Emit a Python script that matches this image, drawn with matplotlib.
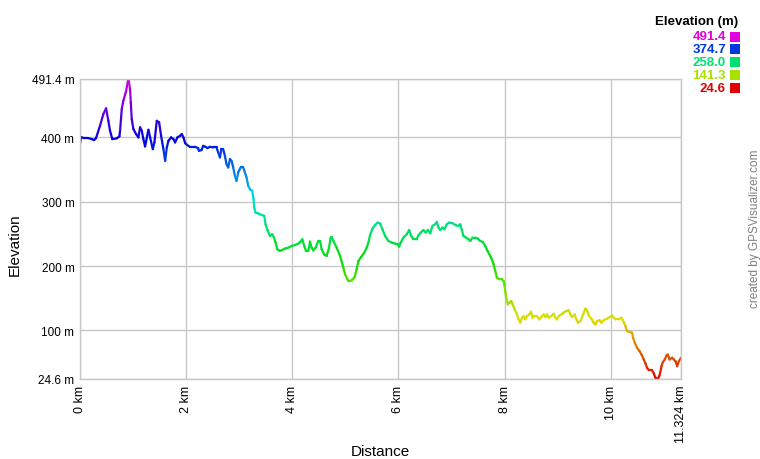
import numpy as np
import matplotlib
matplotlib.use("Agg")
import matplotlib.pyplot as plt
from matplotlib.collections import LineCollection
from matplotlib.colors import hsv_to_rgb
from matplotlib.patches import Rectangle

distance_km = [0, 0.019, 0.075, 0.151, 0.226, 0.264, 0.302, 0.377, 0.440, 0.491, 0.534, 0.566, 0.609, 0.692, 0.742, 0.755, 0.787, 0.817, 0.862, 0.900, 0.911, 0.943, 0.957, 0.975, 1.006, 1.057, 1.100, 1.132, 1.164, 1.194, 1.226, 1.289, 1.321, 1.372, 1.402, 1.447, 1.491, 1.528, 1.572, 1.604, 1.636, 1.666, 1.717, 1.760, 1.792, 1.836, 1.887, 1.919, 1.949, 1.981, 2.013,
               2.070, 2.164, 2.226, 2.240, 2.289, 2.321, 2.364, 2.402, 2.447, 2.509, 2.572, 2.604, 2.636, 2.666, 2.698, 2.730, 2.760, 2.792, 2.825, 2.855, 2.887, 2.919, 2.949, 2.981, 3.025, 3.075, 3.108, 3.138, 3.170, 3.202, 3.245, 3.270, 3.283, 3.308, 3.358, 3.421, 3.472, 3.496, 3.534, 3.579, 3.623, 3.655, 3.685, 3.717, 3.768, 3.862,
               3.925, 3.987, 4.051, 4.113, 4.157, 4.189, 4.226, 4.258, 4.302, 4.334, 4.364, 4.396, 4.440, 4.491, 4.523, 4.553, 4.598, 4.647, 4.692, 4.723, 4.742, 4.774, 4.836, 4.900, 4.962, 4.994, 5.057, 5.119, 5.170, 5.213, 5.245, 5.296, 5.358, 5.402, 5.434, 5.466, 5.515, 5.560, 5.609, 5.655, 5.698,
               5.749, 5.811, 5.874, 5.938, 5.987, 6.013, 6.043, 6.094, 6.157, 6.202, 6.240, 6.283, 6.345, 6.377, 6.421, 6.472, 6.515, 6.553, 6.598, 6.642, 6.692, 6.723, 6.755, 6.787, 6.830, 6.868, 6.911, 6.957, 7.019, 7.081, 7.132, 7.164, 7.194, 7.226, 7.270, 7.321, 7.353, 7.396, 7.447, 7.491, 7.542, 7.591,
               7.636, 7.679, 7.730, 7.760, 7.792, 7.825, 7.855, 7.900, 7.949, 7.981, 8.000, 8.025, 8.062, 8.094, 8.126, 8.151, 8.189, 8.232, 8.264, 8.296, 8.326, 8.358, 8.390, 8.421, 8.466, 8.496, 8.528, 8.560, 8.609, 8.655, 8.692, 8.736, 8.768, 8.798, 8.830, 8.881, 8.925, 8.957, 8.987, 9.019, 9.070, 9.113, 9.157, 9.208, 9.240, 9.270, 9.321, 9.353, 9.383, 9.428,
               9.523, 9.553, 9.585, 9.636, 9.679, 9.711, 9.742, 9.787, 9.825, 9.868, 9.930, 9.994, 10.025, 10.057, 10.089, 10.151, 10.202, 10.245, 10.277, 10.308, 10.372, 10.402, 10.421, 10.453, 10.496, 10.542, 10.579, 10.623, 10.655, 10.685, 10.717, 10.779, 10.811, 10.843, 10.892, 10.925, 10.957, 10.981, 11.019, 11.051, 11.075, 11.108, 11.157, 11.189, 11.221, 11.251, 11.283, 11.315, 11.324]

elevation_m = [390.0, 400.4, 398.8, 398.8, 397.3, 395.7, 398.8, 418.0, 436.2, 445.0, 425.7, 410.2, 397.3, 398.4, 401.5, 410.2, 443.9, 456.9, 469.9, 485.5, 491.4, 475.1, 454.4, 428.4, 412.8, 405.0, 399.9, 415.5, 410.2, 397.3, 385.9, 411.7, 399.9, 381.7, 392.1, 425.7, 423.2, 402.4, 381.7, 363.5, 384.3, 394.6, 399.9, 397.3, 392.1, 399.9, 402.4, 405.0, 399.9, 391.0, 388.4,
               385.3, 385.3, 383.3, 379.1, 380.1, 386.8, 385.3, 383.3, 385.3, 384.3, 384.3, 376.6, 368.8, 381.7, 381.7, 371.3, 358.4, 353.2, 366.1, 363.5, 353.2, 340.2, 332.4, 345.4, 353.2, 353.2, 345.4, 337.7, 324.6, 319.5, 316.8, 303.9, 291.0, 283.2, 281.7, 279.5, 277.9, 265.0, 255.7, 246.8, 249.4, 244.3, 236.5, 226.1, 223.5, 227.2,
               228.7, 231.2, 232.8, 235.0, 238.1, 241.7, 231.2, 223.5, 223.5, 238.1, 228.7, 224.5, 228.7, 239.0, 239.0, 226.1, 218.3, 215.7, 228.7, 244.3, 245.2, 239.0, 228.7, 215.7, 197.6, 187.2, 176.8, 177.9, 182.1, 195.0, 207.9, 214.1, 221.0, 228.7, 236.5, 248.4, 258.8, 263.9, 267.6, 266.1, 257.2,
               246.8, 239.0, 236.5, 235.0, 233.9, 230.3, 236.5, 244.3, 249.4, 256.1, 246.8, 241.7, 241.7, 247.9, 252.1, 256.1, 252.1, 256.1, 251.0, 262.4, 265.0, 268.6, 259.9, 256.1, 259.9, 257.2, 265.0, 267.6, 266.6, 263.4, 262.4, 265.0, 256.1, 246.8, 244.3, 241.7, 239.0, 244.3, 244.3, 242.8, 239.0, 237.5,
               231.2, 223.5, 215.7, 210.5, 202.8, 192.3, 182.1, 179.4, 179.4, 176.8, 169.0, 153.4, 140.5, 143.2, 145.7, 140.5, 132.7, 125.0, 117.2, 112.0, 119.8, 122.3, 117.2, 122.3, 125.0, 129.2, 119.8, 122.3, 122.3, 117.2, 120.8, 125.0, 120.8, 125.0, 119.8, 122.3, 126.1, 119.8, 117.2, 122.3, 125.0, 127.6, 130.1, 131.2, 125.0, 120.8, 125.0, 117.2, 112.0, 114.5,
               133.8, 131.6, 123.4, 118.3, 112.0, 109.4, 114.5, 116.1, 112.0, 116.1, 118.3, 121.4, 123.4, 119.8, 117.2, 117.2, 119.8, 113.0, 106.8, 99.0, 97.4, 96.5, 88.7, 80.9, 73.1, 67.9, 62.7, 54.9, 48.7, 42.0, 38.3, 38.3, 33.2, 26.5, 24.6, 31.6, 44.5, 50.7, 54.9, 61.2, 62.7, 54.9, 57.6, 54.9, 52.3, 44.5, 52.3, 56.0, 57.6]

x_ticks = [0, 2, 4, 6, 8, 10, 11.324]
x_tick_labels = ["0 km", "2 km", "4 km", "6 km", "8 km", "10 km", "11.324 km"]
y_ticks = [24.6, 100, 200, 300, 400, 491.4]
y_tick_labels = ["24.6 m", "100 m", "200 m", "300 m", "400 m", "491.4 m"]

plt.rcParams['font.family'] = ['Liberation Sans', 'DejaVu Sans']

x = np.array(distance_km)
y = np.array(elevation_m)
ymin, ymax = min(y_ticks), max(y_ticks)


def elev_color(v):
    frac = np.clip((np.asarray(v) - ymin) / (ymax - ymin), 0, 1)
    hue = frac * 300.0 / 360.0
    hsv = np.stack([hue, np.ones_like(hue), np.full_like(hue, 0.88)], axis=-1)
    return hsv_to_rgb(hsv)


fig = plt.figure(figsize=(7.6, 4.6), dpi=100)
ax = fig.add_axes([80 / 760, 1 - 380 / 460, 601 / 760, 300.5 / 460])

pts = np.column_stack([x, y]).reshape(-1, 1, 2)
segs = np.concatenate([pts[:-1], pts[1:]], axis=1)
mid = (y[:-1] + y[1:]) / 2
lc = LineCollection(segs, colors=elev_color(mid), linewidths=1.6, capstyle='round', joinstyle='round')
ax.add_collection(lc)

ax.set_xlim(0, 11.324)
ax.set_ylim(ymin, ymax)
ax.set_xticks(x_ticks)
ax.set_xticklabels(x_tick_labels, rotation=90, fontsize=9)
ax.set_yticks(y_ticks)
ax.set_yticklabels(y_tick_labels, fontsize=8.5)
ax.tick_params(length=0, pad=4)
ax.grid(True, color='#c8c8c8', linewidth=1.0)
ax.set_axisbelow(True)
for s in ax.spines.values():
    s.set_color('#c8c8c8')
    s.set_linewidth(1.0)

fig.text(380 / 760, 1 - 452 / 460, "Distance", ha='center', va='center', fontsize=11)
fig.text(15 / 760, 1 - 245 / 460, "Elevation", ha='center', va='center', rotation=90, fontsize=11)

# legend
fig.text(738 / 760, 1 - 22.5 / 460, "Elevation (m)", ha='right', va='center', fontsize=9.5, fontweight='bold')
leg_vals = [ymax - k * (ymax - ymin) / 4 for k in range(5)]
for i, v in enumerate(leg_vals):
    yc = 37.5 + i * 12.8
    c = elev_color([v])[0]
    fig.text(726 / 760, 1 - yc / 460, f"{v:.1f}", ha='right', va='center', fontsize=9.5,
             fontweight='bold', color=c)
    fig.patches.append(Rectangle((730 / 760, 1 - (yc + 5) / 460), 10 / 760, 10 / 460,
                                 transform=fig.transFigure, facecolor=c, edgecolor='none'))

fig.text(755 / 760, 1 - 229 / 460, "created by GPSVisualizer.com", ha='center', va='center',
         rotation=90, fontsize=8.5, color='#808080')

fig.savefig("out.png", dpi=100)
